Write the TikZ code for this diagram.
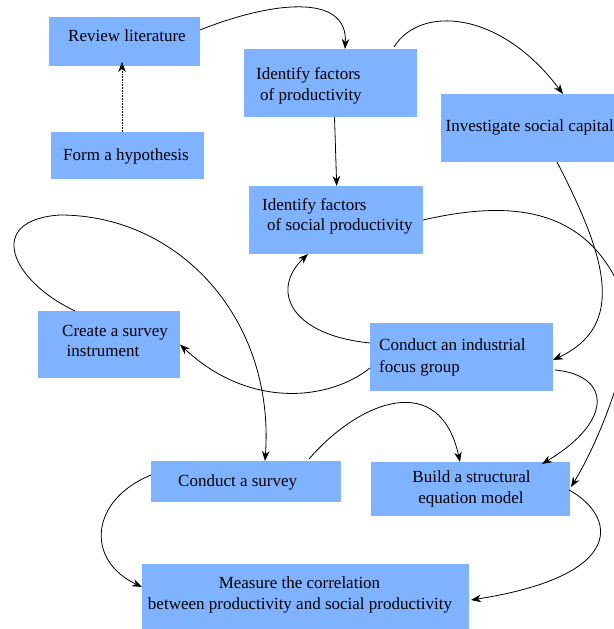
\documentclass[tikz,border=0pt]{standalone}
\usepackage{fontspec}
\setmainfont{Liberation Serif}
\usetikzlibrary{arrows.meta,calc}
\definecolor{boxblue}{RGB}{127,178,255}
\tikzset{
  box/.style={fill=boxblue, draw=none, inner sep=0pt, outer sep=0pt},
  lbl/.style={anchor=base west, inner sep=0pt, font=\fontsize{17bp}{20.7bp}\selectfont},
  clbl/.style={anchor=base, inner sep=0pt, font=\fontsize{17bp}{20.7bp}\selectfont},
  link/.style={-{Stealth[length=10bp,width=7.5bp]}, line width=0.8bp},
  hint/.style={-{Stealth[length=10bp,width=7.5bp]}, line width=0.6bp, densely dotted}
}
\begin{document}
\begin{tikzpicture}[x=1bp,y=-1bp]
\useasboundingbox (0,0) rectangle (614,629);
\clip (0,0) rectangle (614,629);

% boxes
\node[box, minimum width=151bp, minimum height=49bp] (rl)   at (124.5,41.5) {};
\node[box, minimum width=153bp, minimum height=47bp] (fh)   at (127.5,155.5) {};
\node[box, minimum width=173bp, minimum height=68bp] (ifp)  at (330.5,83) {};
\node[box, minimum width=177bp, minimum height=68bp] (isc)  at (529.5,128) {};
\node[box, minimum width=174bp, minimum height=68bp] (ifs)  at (336,220) {};
\node[box, minimum width=142bp, minimum height=67bp] (csi)  at (109,344.5) {};
\node[box, minimum width=183bp, minimum height=68bp] (cifg) at (461.5,357) {};
\node[box, minimum width=190bp, minimum height=41bp] (cs)   at (246,481.5) {};
\node[box, minimum width=199bp, minimum height=54bp] (bsem) at (470.5,489) {};
\node[box, minimum width=327bp, minimum height=67bp] (mc)   at (305.5,597.5) {};

% labels
\node[lbl] (t-rl)    at (68,41.7)    {Review literature};
\node[lbl] (t-fh)    at (63,160.7)   {Form a hypothesis};
\node[lbl] (t-ifp1)  at (256,80)     {Identify factors};
\node[lbl] (t-ifp2)  at (260,100.7)  {of productivity};
\node[lbl] (t-isc)   at (445.5,132)  {Investigate social capital};
\node[lbl] (t-ifs1)  at (262,210)    {Identify factors};
\node[lbl] (t-ifs2)  at (267,230.7)  {of social productivity};
\node[lbl] (t-csi1)  at (62,336)     {Create a survey};
\node[lbl] (t-csi2)  at (66.5,356.7) {instrument};
\node[lbl] (t-cifg1) at (379,350.7)  {Conduct an industrial};
\node[lbl] (t-cifg2) at (379,372.7)  {focus group};
\node[lbl] (t-cs)    at (178,486)    {Conduct a survey};
\node[clbl] (t-bsem1) at (471.5,482.7) {Build a structural};
\node[clbl] (t-bsem2) at (471,503.3)   {equation model};
\node[clbl] (t-mc1)  at (299.5,588.3) {Measure the correlation};
\node[clbl] (t-mc2)  at (300,609.3)   {between productivity and social productivity};

% connectors
\draw[hint] ($(fh.north)+(-5.5,0)$) -- ($(rl.south)+(-2.5,-4)$);
\draw[link] ($(rl.east)+(0,-11.5)$) .. controls (270,2) and (348,-8) .. ($(ifp.north)+(14.5,0)$);
\draw[link] ($(ifp.north)+(63.5,-2)$) .. controls (420,5) and (500,10) .. ($(isc.north)+(33.5,0)$);
\draw[link] ($(ifp.south)+(4,0)$) -- ($(ifs.north)+(0.7,0)$);
\draw[link] ($(isc.south)+(27.5,0)$) .. controls (605,255) and (628,325) .. ($(cifg.east)+(0,3)$);
\draw[link] (ifs.east) .. controls (510,200) and (590,205) .. (625,300)
            .. controls (640,340) and (600,440) .. ($(bsem.east)+(1,-2)$);
\draw[link] ($(cifg.west)+(0,-14)$) .. controls (290,335) and (270,290) .. ($(ifs.south)+(-28,0)$);
\draw[link] ($(cifg.west)+(0,11)$) .. controls (330,400) and (250,410) .. (csi.east);
\draw[link] ($(csi.north)+(-34,0)$) .. controls (10,280) and (-15,220) .. (60,215)
            .. controls (180,215) and (275,320) .. ($(cs.north)+(19,0)$);
\draw[link] ($(cs.north)+(63,-2)$) .. controls (360,400) and (440,370) .. ($(bsem.north)+(-10.5,0)$);
\draw[link] ($(cifg.east)+(2,13)$) .. controls (610,375) and (615,420) .. ($(bsem.north)+(71.5,2)$);
\draw[link] ($(bsem.east)+(-1,1)$) .. controls (615,515) and (630,575) .. ($(mc.east)+(2,2.5)$);
\draw[link] ($(cs.west)+(0,-6.5)$) .. controls (90,500) and (85,560) .. ($(mc.west)+(0,-10.5)$);
\end{tikzpicture}
\end{document}
